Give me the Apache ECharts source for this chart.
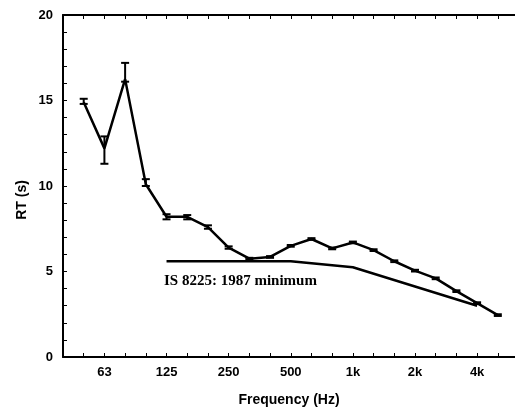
<!DOCTYPE html>
<html>
<head>
<meta charset="utf-8">
<script src="https://cdn.jsdelivr.net/npm/echarts@6/dist/echarts.min.js"></script>
<style>html,body{margin:0;padding:0;background:#fff}#c{width:515px;height:410px}</style>
</head>
<body>
<div id="c"></div>
<script>
// third-octave band index: 0=40Hz, 1=50Hz, 2=63Hz ... 20=4kHz, 21=5kHz
var bandIndex = [1,2,3,4,5,6,7,8,9,10,11,12,13,14,15,16,17,18,19,20,21];
var rtValues  = [14.9,12.2,16.25,10.1,8.2,8.2,7.6,6.4,5.75,5.85,6.5,6.9,6.35,6.7,6.25,5.6,5.05,4.6,3.85,3.15,2.45];
var rtLow     = [14.8,11.3,16.1,10.0,8.05,8.05,7.5,6.33,5.7,5.8,6.45,6.85,6.3,6.65,6.2,5.55,5.0,4.55,3.8,3.1,2.4];
var rtHigh    = [15.1,12.9,17.2,10.4,8.35,8.3,7.7,6.47,5.8,5.9,6.55,6.95,6.4,6.75,6.3,5.65,5.1,4.65,3.9,3.2,2.5];
var minIndex  = [5,11,14,20];
var minValues = [5.6,5.6,5.25,3.0];
var tickLabels = {2:'63',5:'125',8:'250',11:'500',14:'1k',17:'2k',20:'4k'};
var yTicks = [0,5,10,15,20];

var chart = echarts.init(document.getElementById('c'), null, {renderer:'canvas'});
var mainData = bandIndex.map(function(b,i){return [b, rtValues[i]];});
var errData = bandIndex.map(function(b,i){return [b, rtLow[i], rtHigh[i]];});
var minData = minIndex.map(function(b,i){return [b, minValues[i]];});

var axisFont = {fontFamily:'Liberation Sans, Arial, sans-serif', fontWeight:'bold', fontSize:13, color:'#000'};

chart.setOption({
  animation:false,
  grid:{left:63, right:0, top:15, bottom:53, containLabel:false},
  xAxis:[{
    type:'value', min:0, max:21.83, interval:1,
    axisLine:{show:true, lineStyle:{color:'#000', width:2}},
    axisTick:{show:true, inside:true, length:4, lineStyle:{color:'#000', width:1}},
    splitLine:{show:false},
    axisLabel:Object.assign({margin:9, showMaxLabel:false, formatter:function(v){return tickLabels[Math.round(v)]||'';}}, axisFont)
  },{
    type:'value', position:'top', min:0, max:21.83, interval:1,
    axisLine:{show:true, lineStyle:{color:'#000', width:2}},
    axisTick:{show:true, inside:true, length:4, lineStyle:{color:'#000', width:1}},
    splitLine:{show:false}, axisLabel:{show:false}
  }],
  yAxis:{
    type:'value', min:0, max:20, interval:1,
    axisLine:{show:true, lineStyle:{color:'#000', width:2}},
    axisTick:{show:true, inside:true, length:4, lineStyle:{color:'#000', width:1}},
    splitLine:{show:false},
    axisLabel:Object.assign({margin:10, formatter:function(v){return yTicks.indexOf(v)>=0?String(v):'';}}, axisFont)
  },
  graphic:[
    {type:'text', left:'center', x:0, top:388, style:{text:'Frequency (Hz)', font:'bold 14px "Liberation Sans", Arial, sans-serif', fill:'#000', x:289, y:400, textAlign:'center', textVerticalAlign:'middle'}, left:null, top:null},
    {type:'text', rotation:Math.PI/2, x:22, y:200, style:{text:'RT (s)', font:'bold 14px "Liberation Sans", Arial, sans-serif', fill:'#000', textAlign:'center', textVerticalAlign:'middle'}},
    {type:'text', x:164, y:281, style:{text:'IS 8225: 1987 minimum', font:'bold 15px "Liberation Serif", "Times New Roman", serif', fill:'#000', textAlign:'left', textVerticalAlign:'middle'}}
  ],
  series:[
    {type:'line', data:mainData, symbol:'none', lineStyle:{color:'#000', width:2.5}, z:3},
    {type:'line', data:minData, symbol:'none', lineStyle:{color:'#000', width:2.5}, z:3},
    {type:'custom', data:errData, z:4,
     renderItem:function(params, api){
       var x = api.value(0);
       var lo = api.coord([x, api.value(1)]);
       var hi = api.coord([x, api.value(2)]);
       var w = 4;
       var st = {stroke:'#000', lineWidth:2};
       return {type:'group', children:[
         {type:'line', shape:{x1:lo[0], y1:lo[1], x2:hi[0], y2:hi[1]}, style:st},
         {type:'line', shape:{x1:lo[0]-w, y1:lo[1], x2:lo[0]+w, y2:lo[1]}, style:st},
         {type:'line', shape:{x1:hi[0]-w, y1:hi[1], x2:hi[0]+w, y2:hi[1]}, style:st}
       ]};
     }}
  ]
});
</script>
</body>
</html>
